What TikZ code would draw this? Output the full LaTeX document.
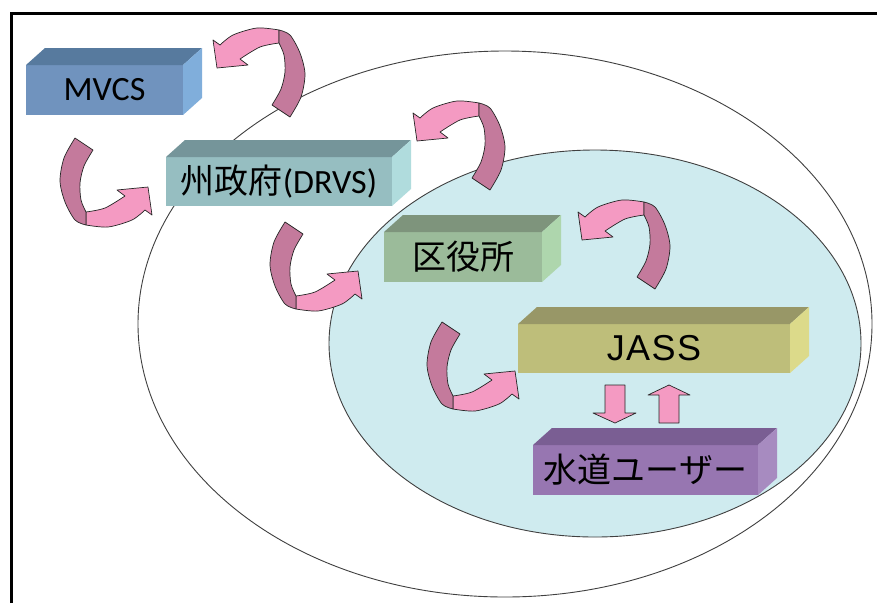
\documentclass[tikz,border=0pt]{standalone}
\usepackage{fontspec}
\setmainfont{Carlito}
\newfontfamily\cjk{Noto Sans CJK JP}
\newfontfamily\arialfont[LetterSpace=4]{Liberation Sans}
\definecolor{pinklight}{RGB}{244,154,194}
\definecolor{pinkdark}{RGB}{196,122,156}
\definecolor{innerblue}{RGB}{207,235,239}
\definecolor{mvcsF}{RGB}{112,147,190}
\definecolor{mvcsT}{RGB}{87,122,158}
\definecolor{mvcsR}{RGB}{128,174,219}
\definecolor{drvsF}{RGB}{150,190,193}
\definecolor{drvsT}{RGB}{117,149,154}
\definecolor{drvsR}{RGB}{176,220,221}
\definecolor{kuF}{RGB}{155,187,154}
\definecolor{kuT}{RGB}{126,148,124}
\definecolor{kuR}{RGB}{174,214,173}
\definecolor{jassF}{RGB}{190,190,122}
\definecolor{jassT}{RGB}{152,151,103}
\definecolor{jassR}{RGB}{220,218,138}
\definecolor{userF}{RGB}{151,118,177}
\definecolor{userT}{RGB}{122,94,147}
\definecolor{userR}{RGB}{167,139,192}
\newcommand\blockfaces[3]{%
  \fill[#2] (#1.north west) -- ([shift={(19,-17)}]#1.north west) -- ([shift={(19,-17)}]#1.north east) -- (#1.north east) -- cycle;
  \fill[#3] (#1.north east) -- ([shift={(19,-17)}]#1.north east) -- ([shift={(19,-17)}]#1.south east) -- (#1.south east) -- cycle;}
\tikzset{
  block/.style={anchor=north west, inner sep=0pt, outer sep=0pt, text=black,
    font=\fontsize{34}{40}\selectfont},
  arrowline/.style={draw=black!85, line width=0.7pt, line join=round},
  ellline/.style={draw=black!75, line width=0.9pt},
  urarrow/.pic={
    \draw[arrowline, fill=pinklight] (-4,-28) -- (0,0) -- (31,-3)
      -- plot[smooth] coordinates {(23,-9) (43,-21) (62,-25)}
      -- plot[smooth] coordinates {(62,-38) (40,-40) (16,-33) (3,-23)} -- cycle;
    \draw[arrowline, fill=pinkdark] plot[smooth] coordinates {(62,-38) (73,-33) (83,-15) (88,6) (84,29) (73,49)}
      -- plot[smooth] coordinates {(55,37) (64,21) (68,4) (67,-13) (62,-25)} -- cycle;
  }
}
\begin{document}
\begin{tikzpicture}[x=1pt,y=-1pt]
\useasboundingbox (0,0) rectangle (877,603);
\fill[white] (0,0) rectangle (877,603);
% frame
\draw[line width=3pt] (11.5,603) -- (11.5,13) -- (877,13);
% ellipses
\draw[ellline] (505,324) ellipse [x radius=367pt, y radius=273pt];
\filldraw[ellline, fill=innerblue] (595,343.5) ellipse [x radius=266pt, y radius=193.5pt];
% blocks
\node[block, fill=mvcsF, minimum width=157pt, minimum height=50pt] (mvcs) at (26,65) {MVCS};
\blockfaces{mvcs}{mvcsT}{mvcsR}
\node[block, fill=drvsF, minimum width=226pt, minimum height=49pt] (drvs) at (166,157) {{\cjk 州政府}(DRVS)};
\blockfaces{drvs}{drvsT}{drvsR}
\node[block, fill=kuF, minimum width=158pt, minimum height=50pt] (ku) at (384,232) {\cjk 区役所};
\blockfaces{ku}{kuT}{kuR}
\node[block, fill=jassF, minimum width=272pt, minimum height=49pt, font=\fontsize{36}{40}\selectfont] (jass) at (518,324) {\arialfont JASS};
\blockfaces{jass}{jassT}{jassR}
\node[block, fill=userF, minimum width=225pt, minimum height=50pt] (user) at (533,445) {\cjk 水道ユーザー};
\blockfaces{user}{userT}{userR}
% curved arrows
\pic at (217,68) {urarrow};
\pic at (417,141) {urarrow};
\pic at (582,240) {urarrow};
\pic[rotate=180] at (148,187) {urarrow};
\pic[rotate=180] at (358,271) {urarrow};
\pic[rotate=180] at (515,371) {urarrow};
% straight block arrows between JASS and users
\draw[arrowline, fill=pinklight] (605,385) -- (625,385) -- (625,413) -- (636,413) -- (615,423) -- (593,413) -- (605,413) -- cycle;
\draw[arrowline, fill=pinklight] (659,423) -- (679,423) -- (679,395) -- (690,395) -- (669,385) -- (648,395) -- (659,395) -- cycle;
\end{tikzpicture}
\end{document}
